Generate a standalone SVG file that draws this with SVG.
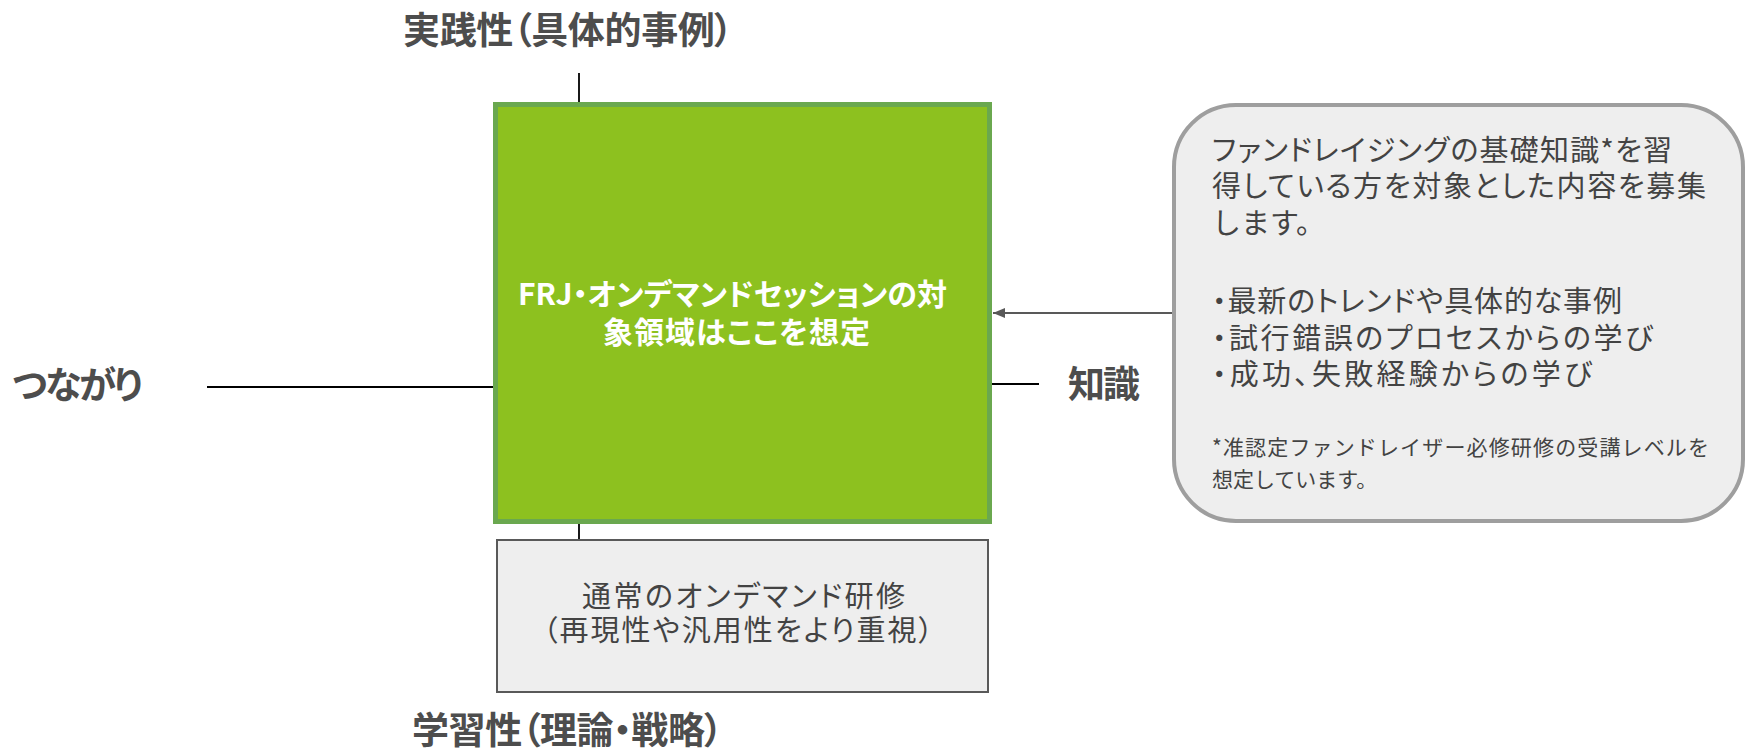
<svg xmlns="http://www.w3.org/2000/svg" width="1746" height="752" viewBox="0 0 1746 752">
<style>
text{font-family:"Noto Sans CJK JP","Noto Sans",sans-serif;fill:#434343;font-feature-settings:"palt"}
.axis{font-size:37px;font-weight:bold;fill:#4d4d4d}
.green{font-size:30px;font-weight:bold;fill:#ffffff}
.body{font-size:29px}
.small{font-size:21px;font-feature-settings:normal}
.nopalt{font-feature-settings:normal}
.line{stroke:#000;stroke-width:1.8;fill:none}
</style>
<defs>
<marker id="ah" markerWidth="12" markerHeight="10" refX="12" refY="5" orient="auto" markerUnits="userSpaceOnUse">
<path d="M0,0 L12,5 L0,10 z" fill="#595959"/>
</marker>
</defs>
<rect width="1746" height="752" fill="#fff"/>
<g id="connectors">
<line class="line" x1="579" y1="73" x2="579" y2="102"/>
<line class="line" x1="579" y1="524" x2="579" y2="540"/>
<line class="line" x1="207" y1="387" x2="493" y2="387"/>
<line class="line" x1="992" y1="384" x2="1039" y2="384"/>
<line x1="1172" y1="313" x2="993" y2="313" stroke="#595959" stroke-width="2" marker-end="url(#ah)"/>
</g>
<g id="label-top"><text class="axis" x="403" y="44" textLength="330">実践性（具体的事例）</text></g>
<g id="label-left"><text class="axis" x="12" y="399" textLength="131">つながり</text></g>
<g id="label-right"><text class="axis" x="1068" y="398" textLength="72">知識</text></g>
<g id="label-bottom"><text class="axis" x="412" y="744" textLength="311">学習性（理論・戦略）</text></g>
<g id="green-box">
<rect x="495.5" y="104.5" width="494" height="417" fill="#8dc11f" stroke="#6aa84f" stroke-width="5"/>
<text class="green" x="518" y="305" textLength="429">FRJ・オンデマンドセッションの対</text>
<text class="green" x="603" y="343" textLength="267">象領域はここを想定</text>
</g>
<g id="gray-box">
<rect x="497" y="540" width="491" height="152" fill="#eeeeee" stroke="#595959" stroke-width="2"/>
<text class="body" x="582" y="607" textLength="323">通常のオンデマンド研修</text>
<text class="body" x="543" y="641" textLength="390">（再現性や汎用性をより重視）</text>
</g>
<g id="note-box">
<rect x="1174" y="105" width="569" height="416" rx="62" ry="62" fill="#eeeeee" stroke="#9e9e9e" stroke-width="4"/>
<text class="body" x="1212" y="161" textLength="460">ファンドレイジングの基礎知識*を習</text>
<text class="body" x="1212" y="197" textLength="494">得している方を対象とした内容を募集</text>
<text class="body nopalt" x="1212" y="234">します。</text>
<text class="body" x="1212" y="312" textLength="410">・最新のトレンドや具体的な事例</text>
<text class="body" x="1212" y="349" textLength="441">・試行錯誤のプロセスからの学び</text>
<text class="body" x="1212" y="385" textLength="380">・成功、失敗経験からの学び</text>
<text class="small" x="1212" y="455" textLength="497">*准認定ファンドレイザー必修研修の受講レベルを</text>
<text class="small" x="1212" y="487">想定しています。</text>
</g>
</svg>
